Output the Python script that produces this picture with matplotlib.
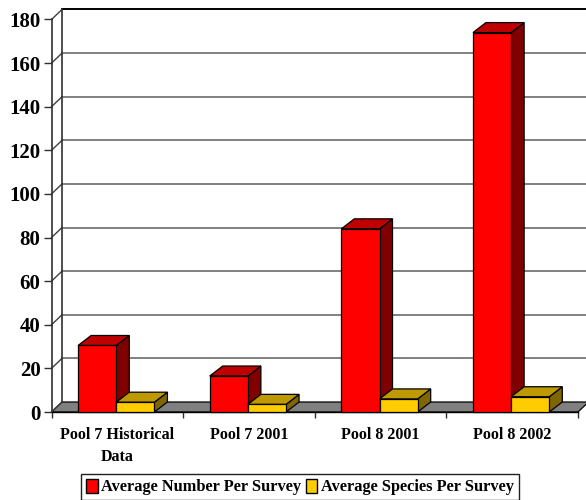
import matplotlib
matplotlib.use('Agg')
import matplotlib.pyplot as plt
from matplotlib.patches import Polygon, Patch

categories = ['Pool 7 Historical\nData', 'Pool 7 2001', 'Pool 8 2001', 'Pool 8 2002']
avg_number = [30.5, 16.5, 84, 174]
avg_species = [4.5, 3.5, 6, 7]
y_ticks = list(range(0, 181, 20))

plt.rcParams['font.family'] = ['Liberation Serif', 'DejaVu Serif']
plt.rcParams['font.weight'] = 'bold'

W, H = 586, 500
fig = plt.figure(figsize=(W / 100, H / 100), dpi=100, facecolor='white')
# plot area in pixels: x 51.5..578, y 19.5..412
ax = fig.add_axes([51.5 / W, 1 - 412 / H, (578 - 51.5) / W, (412 - 19.5) / H])
ax.set_xlim(0, 4)
ax.set_ylim(0, 180)
ax.patch.set_visible(False)
for s in ax.spines.values():
    s.set_visible(False)

# 3d offsets in data units
wall_dx = 10.5 / 131.6
bar_dx = 13 / 131.6
dy = 10 / (392.5 / 180)
bar_w = 0.29
shift = -0.008


def box(x0, x1, top, front, top_c, side_c):
    ec = dict(edgecolor='black', linewidth=0.9, zorder=5, clip_on=False)
    ax.add_patch(Polygon([(x1, 0), (x1 + bar_dx, dy), (x1 + bar_dx, top + dy), (x1, top)], facecolor=side_c, **ec))
    ax.add_patch(Polygon([(x0, top), (x1, top), (x1 + bar_dx, top + dy), (x0 + bar_dx, top + dy)], facecolor=top_c, **ec))
    ax.add_patch(Polygon([(x0, 0), (x1, 0), (x1, top), (x0, top)], facecolor=front, **ec))


# floor
ax.add_patch(Polygon([(0, 0), (4, 0), (4 + wall_dx, dy), (wall_dx, dy)], facecolor='#808080',
                     edgecolor='black', linewidth=0.9, clip_on=False, zorder=1))

# back wall grid
for v in y_ticks[1:]:
    col = 'black' if v == 180 else '#808080'
    ax.plot([wall_dx, 4 + wall_dx], [v + dy, v + dy], color=col, lw=1.4, clip_on=False, zorder=2)
for v in y_ticks:
    ax.plot([0, wall_dx], [v, v + dy], color='#404040', lw=1.0, clip_on=False, zorder=2)
ax.plot([wall_dx, wall_dx], [dy, 180 + dy], color='#303030', lw=1.2, clip_on=False, zorder=2)
ax.plot([0, 0], [0, 180], color='#303030', lw=1.2, clip_on=False, zorder=2)
ax.plot([0, 4], [0, 0], color='black', lw=1.0, clip_on=False, zorder=2)

# red first so the yellow box sits in front of its side face
for i in range(len(categories)):
    c = i + 0.5 + shift
    box(c - bar_w, c, avg_number[i], '#ff0000', '#bf0000', '#800000')
    box(c, c + bar_w, avg_species[i], '#ffcc00', '#bf9900', '#806600')

ax.set_yticks(y_ticks)
ax.set_xticks(range(5))
ax.set_xticks([i + 0.5 for i in range(4)], minor=True)
ax.set_xticklabels([])
ax.set_xticklabels(categories, minor=True, fontsize=11.5, fontweight='bold', linespacing=1.45)
ax.tick_params(axis='x', which='major', length=4, width=1, color='#303030')
ax.tick_params(axis='x', which='minor', length=0, pad=11)
ax.tick_params(axis='y', length=6, width=1, color='#303030', pad=2, labelsize=15)
for t in ax.get_yticklabels():
    t.set_fontweight('bold')

handles = [Patch(facecolor='#ff0000', edgecolor='black', label='Average Number Per Survey'),
           Patch(facecolor='#ffcc00', edgecolor='black', label='Average Species Per Survey')]
fig.legend(handles=handles, ncol=2, loc='center', bbox_to_anchor=(300 / W, 1 - 487 / H),
           fancybox=False, edgecolor='#202020', framealpha=1, fontsize=11.8,
           handlelength=0.7, handleheight=0.95, handletextpad=0.2, columnspacing=0.3,
           borderpad=0.3, borderaxespad=0)

fig.savefig('out.png', dpi=100)
